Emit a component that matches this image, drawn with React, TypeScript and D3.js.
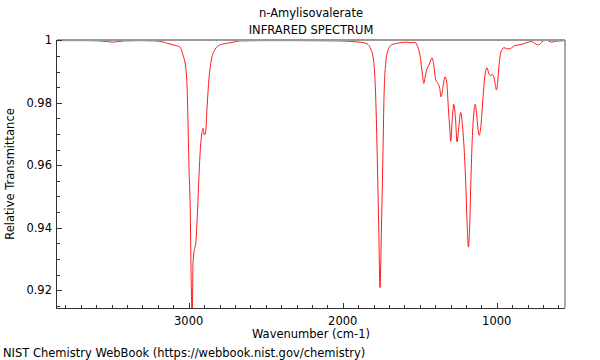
import React from "react";
import * as d3 from "d3";

const title = "n-Amylisovalerate";
const subtitle = "INFRARED SPECTRUM";
const xLabel = "Wavenumber (cm-1)";
const yLabel = "Relative Transmittance";
const footer = "NIST Chemistry WebBook (https://webbook.nist.gov/chemistry)";

const xTicks = [3000, 2000, 1000];
const yTicks = [0.92, 0.94, 0.96, 0.98, 1];
const yTickLabels = ["0.92", "0.94", "0.96", "0.98", "1"];

// wavenumber (cm-1)
const wavenumber = [
  3857, 3773, 3643, 3578, 3526, 3494, 3461, 3416, 3318, 3221, 3175, 3136, 3097, 3058, 3037, 3019, 3011, 3005, 2998, 2989,
  2985, 2977, 2972, 2961, 2955, 2946, 2933, 2924, 2916, 2907, 2898, 2890, 2881, 2868, 2853, 2831, 2799, 2755, 2712, 2669,
  2539, 2279, 2019, 1890, 1846, 1825, 1803, 1786, 1775, 1766, 1758, 1749, 1740, 1732, 1721, 1706, 1684, 1651, 1588, 1554,
  1532, 1518, 1499, 1482, 1474, 1461, 1450, 1440, 1429, 1420, 1409, 1396, 1381, 1370, 1362, 1349, 1336, 1325, 1314, 1305,
  1299, 1290, 1279, 1268, 1258, 1245, 1234, 1223, 1212, 1201, 1193, 1184, 1175, 1167, 1158, 1148, 1140, 1131, 1121, 1114,
  1105, 1094, 1083, 1073, 1063, 1052, 1041, 1031, 1019, 1011, 1002, 994, 985, 976, 965, 955, 937, 920, 904, 883,
  862, 840, 818, 797, 775, 753, 732, 716, 699, 682, 664, 645, 623, 602, 580, 558,
];

// relative transmittance
const transmittance = [
  0.9999, 0.9999, 0.9999, 0.9998, 0.9996, 0.9994, 0.9996, 0.9998, 0.9999, 0.9998, 0.9996, 0.999, 0.9985, 0.9979, 0.9953, 0.9911, 0.9857, 0.9751, 0.9591, 0.943,
  0.927, 0.911, 0.9287, 0.9334, 0.9346, 0.9419, 0.9568, 0.9655, 0.9697, 0.9718, 0.9697, 0.9707, 0.9783, 0.9879, 0.9937, 0.9969, 0.9985, 0.999, 0.9994, 0.9998,
  0.9999, 0.9999, 0.9998, 0.9994, 0.999, 0.9979, 0.9947, 0.9819, 0.9607, 0.9392, 0.9208, 0.9392, 0.9607, 0.9819, 0.9926, 0.9969, 0.9985, 0.999, 0.9994, 0.9992,
  0.9994, 0.9985, 0.9953, 0.9889, 0.9862, 0.9894, 0.9912, 0.9921, 0.9937, 0.9944, 0.9921, 0.9873, 0.9862, 0.9846, 0.9819, 0.9851, 0.9883, 0.9867, 0.9782, 0.9718,
  0.9677, 0.9739, 0.9795, 0.975, 0.9675, 0.9729, 0.9769, 0.9729, 0.9654, 0.9536, 0.9419, 0.9338, 0.9419, 0.9568, 0.9696, 0.9771, 0.9795, 0.9764, 0.9713, 0.9696,
  0.9716, 0.9783, 0.9857, 0.9899, 0.9912, 0.9894, 0.9887, 0.9891, 0.9883, 0.9862, 0.9841, 0.9867, 0.9921, 0.9958, 0.9972, 0.9976, 0.9974, 0.9972, 0.9976, 0.9983,
  0.9985, 0.9987, 0.999, 0.9994, 0.9996, 0.999, 0.9985, 0.999, 0.9998, 1.0001, 0.9998, 0.9994, 0.9996, 0.9998, 0.9998, 1.0,
];

const W = 600;
const H = 360;
const left = 57;
const right = 565;
const top = 40;
const bottom = 308;

export default function App() {
  const x = d3.scaleLinear().domain([3855, 557]).range([left, right]);
  const y = d3.scaleLinear().domain([0.9143, 1.0001]).range([bottom, top]);

  const pts: [number, number][] = wavenumber.map((w, i) => [w, transmittance[i]]);
  const line = d3
    .line<[number, number]>()
    .x((d) => x(d[0]))
    .y((d) => y(d[1]))
    .curve(d3.curveMonotoneX);

  const xMinor = d3.range(600, 3900, 100).filter((v) => v <= 3855 && v >= 557 && v % 1000 !== 0);
  const yMinor = d3.range(0.915, 1.0, 0.005).filter((v) => Math.abs(Math.round(v * 50) - v * 50) > 1e-6);

  const font = "DejaVu Sans, sans-serif";
  const axisColor = "#333";
  const fs = 11.5;

  return (
    <svg
      width={W}
      height={H}
      style={{ position: "absolute", left: 0, top: 0, background: "#fff" }}
      fontFamily={font}
    >
      <defs>
        <clipPath id="plotclip">
          <rect x={left} y={top} width={right - left} height={bottom - top} />
        </clipPath>
      </defs>
      <text x={(left + right) / 2} y={17} textAnchor="middle" fontSize={fs} fill="#000">
        {title}
      </text>
      <text x={(left + right) / 2} y={34} textAnchor="middle" fontSize={fs} fill="#000">
        {subtitle}
      </text>

      <path d={line(pts) || ""} fill="none" stroke="#ff0000" strokeWidth={0.9} clipPath="url(#plotclip)" />

      {/* frame */}
      <line x1={left} x2={right} y1={top} y2={top} stroke="#9a9a9a" strokeWidth={2} />
      <line x1={right} x2={right} y1={top} y2={bottom} stroke="#555" strokeWidth={1} />
      <line x1={left} x2={right} y1={bottom + 0.5} y2={bottom + 0.5} stroke={axisColor} strokeWidth={1} />
      <line x1={left - 0.5} x2={left - 0.5} y1={top} y2={bottom + 1} stroke={axisColor} strokeWidth={1} />

      {/* x ticks */}
      {xMinor.map((v) => (
        <line key={"xm" + v} x1={Math.round(x(v)) + 0.5} x2={Math.round(x(v)) + 0.5} y1={bottom} y2={bottom - 3} stroke={axisColor} />
      ))}
      {xTicks.map((v) => (
        <g key={"xt" + v}>
          <line x1={Math.round(x(v)) + 0.5} x2={Math.round(x(v)) + 0.5} y1={bottom} y2={bottom - 5} stroke={axisColor} />
          <text x={x(v)} y={325} textAnchor="middle" fontSize={fs} fill="#000">
            {v}
          </text>
        </g>
      ))}
      <text x={(left + right) / 2} y={338} textAnchor="middle" fontSize={fs} fill="#000">
        {xLabel}
      </text>

      {/* y ticks */}
      {yMinor.map((v, i) => (
        <line key={"ym" + i} x1={left} x2={left + 3} y1={Math.round(y(v)) + 0.5} y2={Math.round(y(v)) + 0.5} stroke={axisColor} />
      ))}
      {yTicks.map((v, i) => (
        <g key={"yt" + v}>
          <line x1={left} x2={left + 5} y1={Math.round(y(v)) + 0.5} y2={Math.round(y(v)) + 0.5} stroke={axisColor} />
          <text x={52} y={y(v)} dy="0.35em" textAnchor="end" fontSize={fs} fill="#000">
            {yTickLabels[i]}
          </text>
        </g>
      ))}
      <text
        transform={`translate(14,${(top + bottom) / 2}) rotate(-90)`}
        textAnchor="middle"
        fontSize={fs}
        fill="#000"
      >
        {yLabel}
      </text>

      <text x={3} y={357} fontSize={fs} fill="#000">
        {footer}
      </text>
    </svg>
  );
}
